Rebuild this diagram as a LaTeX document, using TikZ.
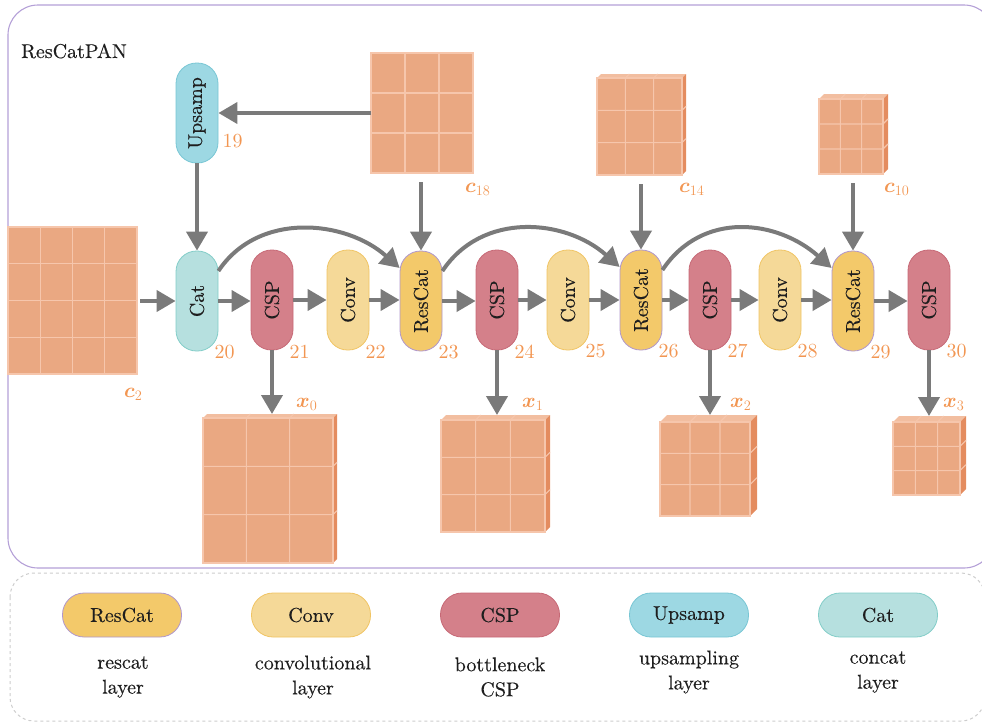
\documentclass[tikz,border=0pt]{standalone}
\usepackage{amsmath,bm}
\usepackage{fontspec}
\newfontfamily\lblfont{lmroman10-regular.otf}[FakeBold=0.3]
\newfontfamily\numfont{lmroman10-regular.otf}
\usetikzlibrary{arrows.meta,calc}
\definecolor{txt}{RGB}{30,30,30}
\definecolor{framepurple}{RGB}{180,160,215}
\definecolor{legdash}{RGB}{205,205,205}
\definecolor{arrgray}{RGB}{122,122,122}
\definecolor{numorange}{RGB}{242,150,82}
\definecolor{rcfill}{RGB}{243,201,106}
\definecolor{rcdraw}{RGB}{175,150,205}
\definecolor{cvfill}{RGB}{245,217,152}
\definecolor{cvdraw}{RGB}{240,196,100}
\definecolor{cspfill}{RGB}{212,128,138}
\definecolor{cspdraw}{RGB}{198,105,118}
\definecolor{upfill}{RGB}{157,216,227}
\definecolor{updraw}{RGB}{120,198,212}
\definecolor{catfill}{RGB}{182,224,223}
\definecolor{catdraw}{RGB}{130,205,200}
\definecolor{cubefrontc}{RGB}{234,168,130}
\definecolor{cubegridc}{RGB}{246,198,172}
\definecolor{cubetopc}{RGB}{242,190,160}
\definecolor{cubesidec}{RGB}{228,140,95}
\newcommand{\fmcube}[7]{%
  \pgfmathsetmacro{\cw}{#4-#2}\pgfmathsetmacro{\ch}{#5-#3}%
  \node[cubefront, minimum width=\cw pt, minimum height=\ch pt] (#1) at ({(#2+#4)/2},{(#3+#5)/2}) {};
  \coordinate (#1-top) at ({(#2+#4)/2},{#3-#7});
  \ifdim #7pt>0pt
   \fill[cubetopc] (#2,#3) -- ({#2+#7},{#3-#7}) -- ({#4+#7},{#3-#7}) -- (#4,#3) -- cycle;
   \fill[cubesidec] (#4,#3) -- ({#4+#7},{#3-#7}) -- ({#4+#7},{#5-#7}) -- (#4,#5) -- cycle;
  \fi
  \pgfmathtruncatemacro{\cn}{#6-1}%
  \foreach \i in {1,...,\cn}{
    \pgfmathsetmacro{\gx}{#2+\cw*\i/#6}
    \pgfmathsetmacro{\gy}{#3+\ch*\i/#6}
    \draw[cubegrid] (\gx,#5) -- (\gx,#3) -- ({\gx+#7},{#3-#7});
    \draw[cubegrid] (#2,\gy) -- (#4,\gy) -- ({#4+#7},{\gy-#7});
  }
  \draw[cubegrid] (#2,#3) rectangle (#4,#5);
}
\begin{document}
\begin{tikzpicture}[x=1pt,y=-1pt,
  font=\lblfont\fontsize{20}{25}\selectfont,
  every node/.style={text=txt},
  arr/.style={draw=arrgray, line width=4pt, -{Triangle[length=19pt,width=21pt]}},
  pill/.style={draw, line width=0.8pt, rounded corners=20.5pt, minimum width=42pt, minimum height=100pt, inner sep=0pt},
  lpill/.style={draw, line width=0.8pt, rounded corners=21.5pt, minimum width=119pt, minimum height=44pt, inner sep=0pt},
  rcs/.style={fill=rcfill, draw=rcdraw},
  cvs/.style={fill=cvfill, draw=cvdraw},
  csps/.style={fill=cspfill, draw=cspdraw},
  ups/.style={fill=upfill, draw=updraw},
  cats/.style={fill=catfill, draw=catdraw},
  num/.style={text=numorange, anchor=west, inner sep=0pt, font=\numfont\fontsize{20}{25}\selectfont},
  flabel/.style={text=numorange, anchor=west, inner sep=0pt, font=\numfont\fontsize{22}{26}\selectfont},
  cubefront/.style={fill=cubefrontc, inner sep=0pt, outer sep=0pt},
  cubegrid/.style={draw=cubegridc, line width=1.1pt},
  legtext/.style={align=center, inner sep=0pt},
]
\useasboundingbox (0,0) rectangle (982,723);
\clip (0,0) rectangle (982,723);

% frames
\draw[framepurple, line width=1.1pt, rounded corners=30pt] (8,5) rectangle (994,568);
\draw[legdash, line width=1pt, dashed, rounded corners=24pt] (10,573) rectangle (985,721);
\node[anchor=base west, inner sep=0pt] (title) at (21,58) {ResCatPAN};

% cubes
\fmcube{c2}{8}{227}{137}{374}{4}{0}
\fmcube{c18}{371}{53}{473}{173}{3}{0}
\fmcube{c14}{597}{78}{682}{175}{3}{4}
\fmcube{c10}{819}{99}{883}{174}{3}{5}
\fmcube{x0}{203}{418}{333}{563}{3}{4}
\fmcube{x1}{441}{420}{545}{532}{3}{5}
\fmcube{x2}{660}{422}{750}{516}{3}{7}
\fmcube{x3}{893}{422}{960}{495}{3}{6}

\node[flabel] (lc2) at (124,394) {$\bm{c}_{2}$};
\node[flabel] (lc18) at (465,189) {$\bm{c}_{18}$};
\node[flabel] (lc14) at (679,189) {$\bm{c}_{14}$};
\node[flabel] (lc10) at (884,189) {$\bm{c}_{10}$};
\node[flabel] (lx0) at (296,404) {$\bm{x}_{0}$};
\node[flabel] (lx1) at (522,404) {$\bm{x}_{1}$};
\node[flabel] (lx2) at (730,404) {$\bm{x}_{2}$};
\node[flabel] (lx3) at (943,404) {$\bm{x}_{3}$};

% layer nodes
\node[pill, ups] (up) at (197,113) {\rotatebox{90}{Upsamp}};
\node[pill, cats] (cat) at (197,301) {\rotatebox{90}{Cat}};
\node[pill, csps] (csp21) at (272,300) {\rotatebox{90}{CSP}};
\node[pill, cvs] (conv22) at (348,300) {\rotatebox{90}{Conv}};
\node[pill, rcs] (rc23) at (421,301) {\rotatebox{90}{ResCat}};
\node[pill, csps] (csp24) at (497,300) {\rotatebox{90}{CSP}};
\node[pill, cvs] (conv25) at (568,300) {\rotatebox{90}{Conv}};
\node[pill, rcs] (rc26) at (641,300) {\rotatebox{90}{ResCat}};
\node[pill, csps] (csp27) at (710,300) {\rotatebox{90}{CSP}};
\node[pill, cvs] (conv28) at (780,300) {\rotatebox{90}{Conv}};
\node[pill, rcs] (rc29) at (853,301) {\rotatebox{90}{ResCat}};
\node[pill, csps] (csp30) at (929,300) {\rotatebox{90}{CSP}};

% numbers
\node[num] (n19) at ($(up.east)+(4,28)$) {19};
\foreach \n/\t in {cat/20,csp21/21,conv22/22,rc23/23,csp24/24,conv25/25,rc26/26,csp27/27,conv28/28,rc29/29,csp30/30}
  \node[num] (n\t) at ($(\n.south east)+(-4,1)$) {\t};

% connectors
\draw[arr] (c18.west) -- (up.east);
\draw[arr] (up.south) -- (cat.north);
\draw[arr] ($(c2.east |- cat.west)+(3,0)$) -- (cat.west);
\foreach \a/\b in {cat/csp21,csp21/conv22,conv22/rc23,rc23/csp24,csp24/conv25,conv25/rc26,rc26/csp27,csp27/conv28,conv28/rc29,rc29/csp30}
  \draw[arr] (\a.east) -- (\b.west |- \a.east);
\draw[arr] ($(rc23.north |- c18.south)+(0,9)$) -- (rc23.north);
\draw[arr] ($(rc26.north |- c14.south)+(0,9)$) -- (rc26.north);
\draw[arr] ($(rc29.north |- c10.south)+(0,9)$) -- (rc29.north);
\draw[arr] ([yshift=30pt]cat.east) .. controls +(40,-60) and +(-54,-48) .. ([yshift=33pt]rc23.west);
\draw[arr] ([yshift=30pt]rc23.east) .. controls +(40,-60) and +(-54,-48) .. ([yshift=33pt]rc26.west);
\draw[arr] ([yshift=30pt]rc26.east) .. controls +(40,-60) and +(-54,-48) .. ([yshift=33pt]rc29.west);
\draw[arr] (csp21.south) -- (csp21.south |- x0-top);
\draw[arr] (csp24.south) -- (csp24.south |- x1-top);
\draw[arr] (csp27.south) -- (csp27.south |- x2-top);
\draw[arr] (csp30.south) -- (csp30.south |- x3-top);

% legend
\node[lpill, rcs] (lrc) at (122,615) {ResCat};
\node[lpill, cvs] (lcv) at (311,615) {Conv};
\node[lpill, csps] (lcsp) at (500,615) {CSP};
\node[lpill, ups] (lup) at (689,615) {Upsamp};
\node[lpill, cats] (lcat) at (878,615) {Cat};
\node[legtext] (trc) at (123,677) {rescat\\layer};
\node[legtext] (tcv) at (313,677) {convolutional\\layer};
\node[legtext] (tcsp) at (500,677) {bottleneck\\CSP};
\node[legtext] (tup) at (689,672) {upsampling\\layer};
\node[legtext] (tcat) at (878,672) {concat\\layer};
\end{tikzpicture}
\end{document}
